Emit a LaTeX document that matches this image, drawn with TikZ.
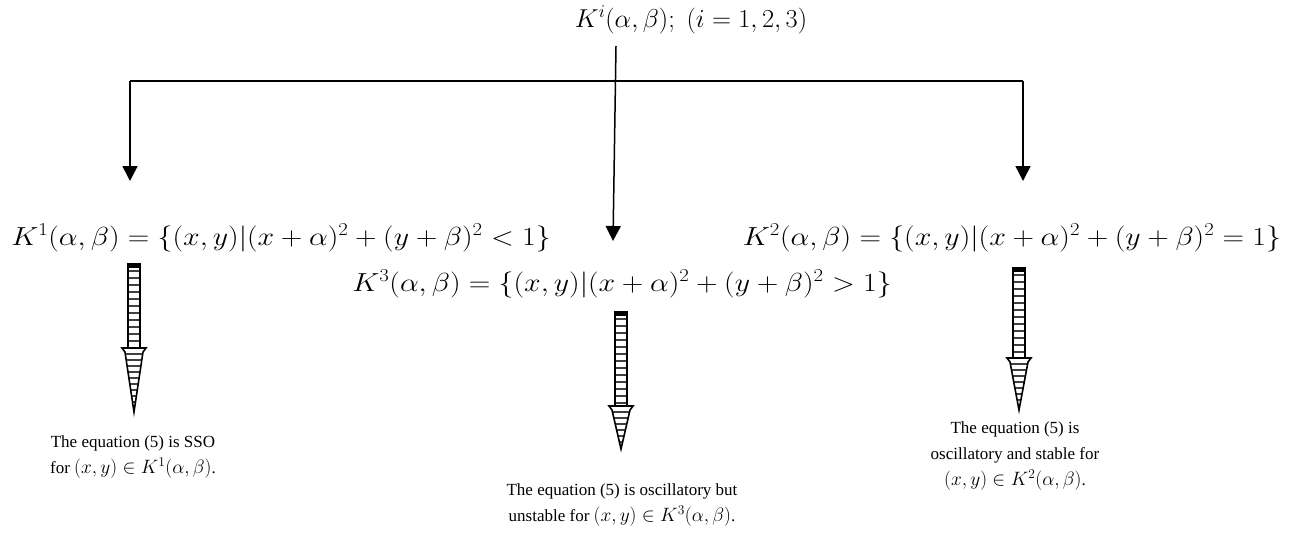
\documentclass[tikz,border=0pt]{standalone}
\usepackage{fontspec}
\setmainfont{Liberation Serif}
\usetikzlibrary{arrows.meta}
\tikzset{
  eq/.style={inner sep=0pt, font=\fontsize{26}{30}\selectfont},
  desc/.style={inner sep=0pt, align=center, font=\fontsize{17}{26}\selectfont},
  conn/.style={line width=1.5pt, -{Triangle[length=15pt,width=15pt]}},
  plain/.style={line width=1.5pt}
}
\newcommand\dm[1]{\scalebox{1.12}{$#1$}}
\newcommand\stripedarrow[4]{% x, ytop, yhead, ytip
  \fill (#1-6.5,#2) rectangle (#1+6.5,#2+4);
  \begin{scope}
    \clip (#1-6,#2) rectangle (#1+6,#3);
    \foreach \k in {1,...,20} \draw[line width=1.4pt, black!75] (#1-6,#2+7*\k) -- ++(12,0);
  \end{scope}
  \draw[line width=1.6pt] (#1-6,#2) rectangle (#1+6,#3);
  \begin{scope}
    \clip (#1-12,#3) -- (#1+12,#3) -- (#1+9,#3+4) -- (#1,#4) -- (#1-9,#3+4) -- cycle;
    \foreach \k in {1,...,12} \draw[line width=1.4pt, black!75] (#1-12,#3+6*\k) -- ++(24,0);
  \end{scope}
  \draw[line width=1.6pt, line join=miter] (#1-12,#3) -- (#1+12,#3) -- (#1+9,#3+4) -- (#1,#4) -- (#1-9,#3+4) -- cycle;
}
\begin{document}
\begin{tikzpicture}[x=1pt,y=-1pt]
\useasboundingbox (0,0) rectangle (1303,539);
\node[eq] (top) at (691,20) {\scalebox{1.06}[1.04]{$K^i(\alpha,\beta);\;(i=1,2,3)$}};
\node[eq] (k1) at (281,238) {\scalebox{1.2}[1.05]{$K^1(\alpha,\beta)=\{(x,y)|(x+\alpha)^2+(y+\beta)^2<1\}$}};
\node[eq] (k2) at (1012,238) {\scalebox{1.2}[1.05]{$K^2(\alpha,\beta)=\{(x,y)|(x+\alpha)^2+(y+\beta)^2=1\}$}};
\node[eq] (k3) at (622,284) {\scalebox{1.2}[1.05]{$K^3(\alpha,\beta)=\{(x,y)|(x+\alpha)^2+(y+\beta)^2>1\}$}};

\coordinate (s) at (616,46);
\coordinate (jl) at (130,81);
\coordinate (jr) at (1023,81);
\coordinate (el) at (130,181);
\coordinate (er) at (1023,181);
\coordinate (ec) at (613,241);
\draw[plain] (jl) -- (jr);
\draw[conn] (jl) -- (el);
\draw[conn] (jr) -- (er);
\draw[conn] (s) -- (ec);

\stripedarrow{134}{264}{348}{412}
\stripedarrow{621}{312}{406}{449}
\stripedarrow{1019}{268}{358}{410}

\node[desc] (t1) at (133,457) {The equation (5) is SSO\\for \dm{(x,y)\in K^1(\alpha,\beta)}.};
\node[desc] (t3) at (622,505) {The equation (5) is oscillatory but\\unstable for \dm{(x,y)\in K^3(\alpha,\beta)}.};
\node[desc] (t2) at (1015,456) {The equation (5) is\\oscillatory and stable for\\\dm{(x,y)\in K^2(\alpha,\beta)}.};
\end{tikzpicture}
\end{document}
